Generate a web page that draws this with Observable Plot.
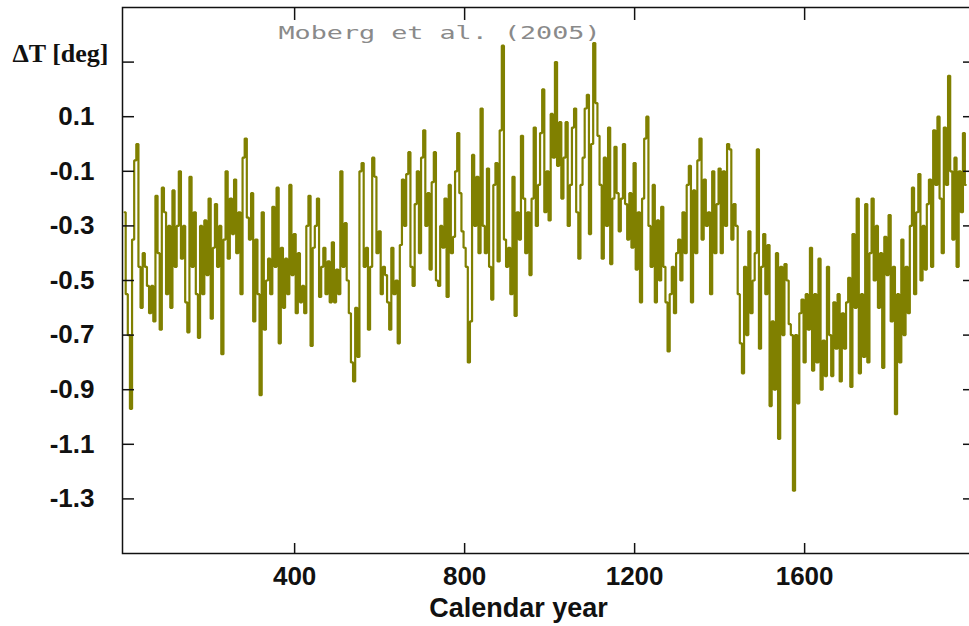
<!DOCTYPE html>
<html><head><meta charset="utf-8">
<script src="https://cdn.jsdelivr.net/npm/d3@7"></script>
<script src="https://cdn.jsdelivr.net/npm/@observablehq/plot@0.6"></script>
<style>html,body{margin:0;padding:0;background:#fff;overflow:hidden;}</style>
</head><body><div id="chart"></div>
<script>
// Moberg et al. (2005) reconstruction, every 5 years
const yearStep = 5;
const segmentStarts = [0, 335, 660, 990, 1305, 1645];
const anomaly0to330 = [-0.25,-0.55,-0.70,-0.97,-0.35,-0.06,0.00,-0.45,-0.60,-0.40,-0.45,-0.52,-0.62,-0.52,-0.65,-0.19,-0.40,-0.68,-0.16,-0.25,-0.55,-0.30,-0.60,-0.17,-0.45,-0.30,-0.10,-0.42,-0.30,-0.58,-0.69,-0.12,-0.45,-0.25,-0.55,-0.71,-0.30,-0.55,-0.28,-0.48,-0.20,-0.64,-0.38,-0.22,-0.45,-0.30,-0.77,-0.35,-0.10,-0.42,-0.20,-0.33,-0.13,-0.40,-0.25,-0.55,-0.05,0.02,-0.27,-0.35,-0.18,-0.65,-0.35,-0.55,-0.92,-0.25,-0.68];
const anomaly335to655 = [-0.50,-0.42,-0.55,-0.23,-0.45,-0.16,-0.73,-0.38,-0.60,-0.42,-0.55,-0.15,-0.48,-0.33,-0.62,-0.40,-0.58,-0.52,-0.62,-0.30,-0.19,-0.74,-0.38,-0.30,-0.20,-0.56,-0.45,-0.38,-0.55,-0.43,-0.58,-0.36,-0.58,-0.46,-0.55,-0.10,-0.45,-0.29,-0.50,-0.62,-0.80,-0.87,-0.60,-0.78,-0.10,-0.07,-0.45,-0.38,-0.68,-0.45,-0.05,-0.12,-0.40,-0.32,-0.55,-0.45,-0.48,-0.58,-0.68,-0.38,-0.55,-0.50,-0.73,-0.37,-0.13];
const anomaly660to985 = [-0.30,-0.11,-0.03,-0.45,-0.52,-0.22,-0.10,-0.40,-0.05,0.05,-0.30,-0.18,-0.46,-0.14,-0.03,-0.50,-0.52,-0.30,-0.38,-0.20,-0.56,-0.15,-0.40,-0.34,-0.10,0.04,-0.18,-0.32,-0.38,-0.45,-0.80,-0.65,-0.04,-0.30,-0.12,-0.40,0.13,-0.30,-0.40,-0.09,-0.45,-0.57,-0.15,-0.07,-0.43,0.05,0.36,-0.35,-0.45,-0.38,-0.55,-0.12,-0.63,-0.25,-0.35,0.03,-0.20,-0.40,-0.25,-0.48,-0.20,0.06,-0.30,-0.15,0.04,0.20];
const anomaly990to1300 = [-0.25,-0.10,-0.28,0.11,-0.05,0.30,-0.08,0.08,-0.20,-0.05,0.08,-0.30,-0.15,0.06,0.13,-0.25,-0.42,-0.15,-0.05,0.13,0.18,-0.33,0.00,0.37,0.15,0.03,-0.15,-0.42,-0.05,-0.30,0.06,-0.44,-0.20,-0.01,-0.18,-0.32,-0.20,0.00,-0.22,-0.35,-0.18,-0.38,-0.07,-0.46,-0.25,-0.58,-0.20,0.02,0.10,-0.30,-0.45,-0.15,-0.58,-0.28,-0.50,-0.23,-0.45,-0.58,-0.76,-0.55,-0.45,-0.62,-0.40];
const anomaly1305to1640 = [-0.35,-0.50,-0.25,-0.40,-0.15,-0.08,-0.58,-0.17,-0.40,-0.06,0.02,-0.35,-0.13,-0.30,-0.25,-0.55,-0.10,-0.40,-0.22,-0.09,-0.40,-0.10,-0.30,0.00,-0.02,-0.35,-0.22,-0.30,-0.55,-0.73,-0.84,-0.45,-0.70,-0.32,-0.62,-0.50,-0.40,-0.02,-0.75,-0.45,-0.33,-0.55,-0.37,-0.96,-0.65,-0.90,-0.40,-1.08,-0.45,-0.70,-0.44,-0.50,-0.66,-0.70,-1.27,-0.70,-0.95,-0.62,-0.57,-0.80,-0.55,-0.68,-0.38,-0.83,-0.55,-0.80,-0.42,-0.90];
const anomaly1645to1975 = [-0.72,-0.85,-0.45,-0.70,-0.85,-0.58,-0.75,-0.55,-0.87,-0.62,-0.75,-0.58,-0.49,-0.89,-0.33,-0.60,-0.20,-0.84,-0.55,-0.78,-0.22,-0.80,-0.40,-0.20,-0.50,-0.30,-0.60,-0.40,-0.82,-0.34,-0.48,-0.26,-0.65,-0.45,-0.99,-0.55,-0.80,-0.35,-0.70,-0.45,-0.62,-0.30,-0.16,-0.55,-0.25,-0.11,-0.50,-0.30,-0.46,-0.22,-0.13,-0.45,0.05,-0.15,0.10,-0.20,-0.40,0.06,-0.15,0.25,-0.10,-0.35,-0.05,-0.45,-0.10,-0.25,0.04];
const finalYears = [1979];
const finalValues = [-0.15];

const xTicks = [400, 800, 1200, 1600];
const yTicks = [-1.3, -1.1, -0.9, -0.7, -0.5, -0.3, -0.1, 0.1, 0.3];
const yLabelTicks = [-1.3, -1.1, -0.9, -0.7, -0.5, -0.3, -0.1, 0.1];
const titleText = "Moberg et al. (2005)";
const yLabelText = "ΔT [deg]";
const xLabelText = "Calendar year";

const segments = [anomaly0to330, anomaly335to655, anomaly660to985, anomaly990to1300, anomaly1305to1640, anomaly1645to1975];
const data = [];
segments.forEach((vals, s) => vals.forEach((v, i) => data.push({year: segmentStarts[s] + i * yearStep, value: v})));
finalYears.forEach((y, i) => data.push({year: y, value: finalValues[i]}));

const axisFont = {fontFamily: "Liberation Sans, Arial, sans-serif", fontWeight: "bold", fontSize: 26, fill: "#111"};
const tickStyle = {stroke: "#111", strokeWidth: 1.5, label: null, tickFormat: () => ""};

const chart = Plot.plot({
  width: 969, height: 626,
  marginLeft: 122, marginRight: -3, marginTop: 7, marginBottom: 73,
  x: {domain: [-5, 1995], label: null},
  y: {domain: [-1.5, 0.5], label: null},
  style: {background: "#fff", overflow: "hidden"},
  marks: [
    Plot.line(data, {x: "year", y: "value", stroke: "#808000", strokeWidth: 2.2, strokeLinejoin: "miter", curve: "step"}),
    Plot.frame({stroke: "#111", strokeWidth: 1.5}),
    Plot.axisX(xTicks, {anchor: "bottom", tickSize: -10, ...tickStyle}),
    Plot.axisX(xTicks, {anchor: "top", tickSize: -12, ...tickStyle}),
    Plot.axisX(xTicks, {anchor: "bottom", tickSize: 0, tickPadding: 13, tickFormat: d => String(d), label: null, ...axisFont}),
    Plot.axisY(yTicks, {anchor: "left", tickSize: -12, ...tickStyle}),
    Plot.axisY(yTicks, {anchor: "right", tickSize: -10, ...tickStyle}),
    Plot.axisY(yLabelTicks, {anchor: "left", tickSize: 0, tickPadding: 28, tickFormat: d => d.toFixed(1), label: null, ...axisFont}),
    Plot.text([xLabelText], {text: d => d, frameAnchor: "bottom", dx: -29, dy: 55, lineAnchor: "middle", ...axisFont, fontSize: 27}),
    Plot.text([yLabelText], {text: d => d, frameAnchor: "top-left", dx: -14, dy: 46, textAnchor: "end", lineAnchor: "middle", fontFamily: "Liberation Serif, Times New Roman, serif", fontWeight: "bold", fontSize: 26, fill: "#111"}),
    Plot.text([titleText], {text: d => d, frameAnchor: "top-left", dx: 156, dy: 26, textAnchor: "start", lineAnchor: "middle", fontFamily: "DejaVu Sans Mono, monospace", fontSize: 17, fill: "#8a8a8a"})
  ]
});
document.getElementById("chart").appendChild(chart);
d3.select(chart).selectAll("text").filter(function() { return this.textContent === titleText; })
  .attr("textLength", 322).attr("lengthAdjust", "spacingAndGlyphs");
</script>
</body></html>
